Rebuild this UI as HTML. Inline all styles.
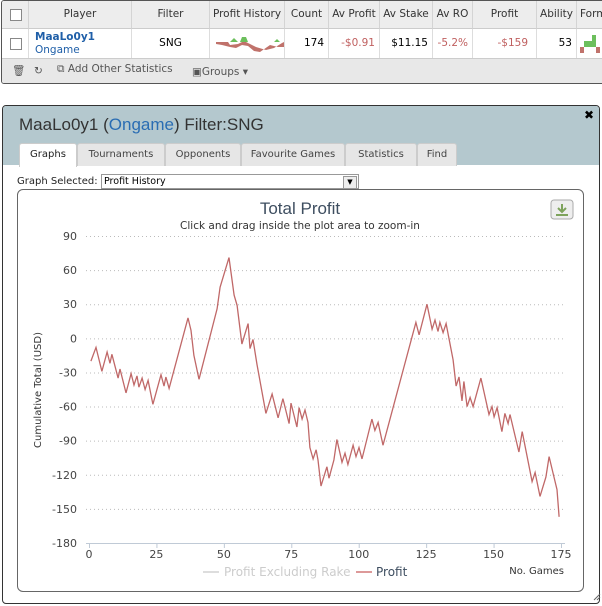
<!DOCTYPE html>
<html><head><meta charset="utf-8"><style>
body{margin:0;width:602px;height:606px;background:#fff;font-family:"DejaVu Sans","Liberation Sans",sans-serif;position:relative;overflow:hidden}
.abs{position:absolute}
#top{left:1px;top:0;width:604px;height:82px;border:1px solid #555;border-radius:3px;background:#fff;overflow:hidden}
.hd{top:0;height:27px;background:#ededed;border-bottom:1px solid #ccc;font-size:10.5px;color:#333;line-height:27px;text-align:center;border-right:1px solid #d4d4d4}
.cell{top:28px;height:29px;font-size:10.5px;line-height:29px;text-align:right;border-right:1px solid #ddd;padding-right:4px;box-sizing:border-box}
#panel{left:2px;top:105px;width:596px;height:497px;border:1px solid #333;border-radius:4px;background:#fff;overflow:hidden}
#phead{left:0;top:0;width:596px;height:59px;background:#b4c8ce}
.tab{top:37px;height:22px;background:#e6e6e6;border:1px solid #ccc;border-bottom:none;font-size:10px;color:#444;line-height:22px;text-align:center;border-radius:3px 3px 0 0}
</style></head><body>
<div id="top" class="abs">
 <div class="abs hd" style="left:0;width:26px"><div class="abs" style="left:8px;top:8px;width:10px;height:10px;border:1px solid #888;background:#fff"></div></div>
 <div class="abs hd" style="left:27px;width:102px">Player</div>
 <div class="abs hd" style="left:130px;width:77px">Filter</div>
 <div class="abs hd" style="left:208px;width:74px;overflow:hidden;white-space:nowrap">Profit History</div>
 <div class="abs hd" style="left:283px;width:43px">Count</div>
 <div class="abs hd" style="left:327px;width:50px">Av Profit</div>
 <div class="abs hd" style="left:378px;width:52px;overflow:hidden;white-space:nowrap">Av Stake</div>
 <div class="abs hd" style="left:431px;width:39px;overflow:hidden">Av RO</div>
 <div class="abs hd" style="left:471px;width:63px">Profit</div>
 <div class="abs hd" style="left:535px;width:39px">Ability</div>
 <div class="abs hd" style="left:575px;width:40px;text-align:left;padding-left:3px">Form</div>
 <div class="abs cell" style="left:0;width:27px"><div class="abs" style="left:8px;top:9px;width:10px;height:10px;border:1px solid #888"></div></div>
 <div class="abs cell" style="left:27px;width:103px;text-align:left;padding-left:6px;line-height:13px;padding-top:2px;color:#1f5fa8"><b>MaaLo0y1</b><br><span>Ongame</span></div>
 <div class="abs cell" style="left:130px;width:78px;text-align:center;padding:0">SNG</div>
 <div class="abs cell" style="left:208px;width:75px;padding:0"><svg width="75" height="29"><path d="M6,13 L18,13 L20,16 L28,15 L32,13 L36,13 L46,18 L56,21 L64,19 L72,14 L74,13 L74,18 L68,18 L60,16 L50,23 L44,22 L38,17 L32,16 L26,19 L20,18 L12,16 L6,15Z" fill="#c0726b"/><path d="M20,13 L24,9 L28,13Z M30,13 L32,8 L36,8 L38,13Z M64,13 L67,10 L70,13Z" fill="#6cbf5c"/></svg></div>
 <div class="abs cell" style="left:283px;width:44px">174</div>
 <div class="abs cell" style="left:327px;width:51px;color:#c06060">-$0.91</div>
 <div class="abs cell" style="left:378px;width:53px">$11.15</div>
 <div class="abs cell" style="left:431px;width:40px;color:#c06060;overflow:hidden">-5.2%</div>
 <div class="abs cell" style="left:471px;width:64px;color:#c06060;padding-right:8px">-$159</div>
 <div class="abs cell" style="left:535px;width:40px">53</div>
 <div class="abs" style="left:578px;top:34px"><svg width="30" height="20"><rect x="0" y="12" width="4" height="6" fill="#c0726b"/><rect x="4" y="6" width="4" height="6" fill="#6cbf5c"/><rect x="8" y="6" width="4" height="6" fill="#6cbf5c"/><rect x="12" y="0" width="4" height="12" fill="#6cbf5c"/><rect x="16" y="12" width="4" height="6" fill="#c0726b"/></svg></div>
 <div class="abs" style="left:0;top:57px;width:604px;height:25px;background:#e8e8e8;border-top:1px solid #ccc;font-size:10.5px;color:#555;line-height:25px">
  <span class="abs" style="left:10px">🗑</span>
  <span class="abs" style="left:32px">↻</span>
  <span class="abs" style="left:55px;top:-2px">⧉ Add Other Statistics</span>
  <span class="abs" style="left:190px;top:1px">▣Groups ▾</span>
 </div>
</div>

<div id="panel" class="abs">
 <div id="phead" class="abs">
  <div class="abs" style="left:16px;top:9px;font-family:'Liberation Sans',sans-serif;font-size:17px;color:#333">MaaLo0y1 (<span style="color:#2a6db3">Ongame</span>) Filter:SNG</div>
  <div class="abs" style="left:581px;top:2px;font-size:12px;font-weight:bold">✖</div>
  <div class="abs tab" style="left:16px;width:56px;background:#fff;height:23px;color:#222">Graphs</div>
  <div class="abs tab" style="left:74px;width:86px">Tournaments</div>
  <div class="abs tab" style="left:162px;width:74px">Opponents</div>
  <div class="abs tab" style="left:238px;width:102px">Favourite Games</div>
  <div class="abs tab" style="left:342px;width:70px">Statistics</div>
  <div class="abs tab" style="left:414px;width:38px">Find</div>
 </div>
 <div class="abs" style="left:14px;top:70px;font-size:10px;color:#222">Graph Selected:</div>
 <div class="abs" style="left:98px;top:68px;font-size:9.5px;line-height:14px;padding-left:2px;border:1px solid #999;box-sizing:border-box;width:258px;height:15px">Profit History<span class="abs" style="right:1px;top:1px;width:12px;height:11px;border:1px solid #999;background:#eee;font-size:7px;text-align:center;line-height:11px">▼</span></div>
 <div class="abs" style="left:14px;top:83px;width:565px;height:401px;border:1px solid #666;border-radius:6px"></div>
</div>

<svg class="abs" style="left:0;top:0" width="602" height="606" id="chart">
 <text x="300" y="214" text-anchor="middle" font-family="Liberation Sans,sans-serif" font-size="17" fill="#3e4e60">Total Profit</text>
 <text x="300" y="229" text-anchor="middle" font-family="DejaVu Sans,sans-serif" font-size="10.5" fill="#333">Click and drag inside the plot area to zoom-in</text>
 <g><rect x="551" y="200" width="22" height="19" rx="3" fill="#eee" stroke="#aaa"/><path d="M562,204 v8 M558,208 l4,4 l4,-4 M556,215 h12" stroke="#7ea35c" stroke-width="2" fill="none"/></g>
 <text transform="translate(41,390) rotate(-90)" text-anchor="middle" font-family="DejaVu Sans,sans-serif" font-size="10" fill="#333">Cumulative Total (USD)</text>
 <g id="grid"></g><g id="yt"></g><g id="xt"></g><g id="series"></g>
 <g font-family="DejaVu Sans,sans-serif" font-size="12">
  <g><line x1="203" y1="572" x2="219" y2="572" stroke="#ddd" stroke-width="2"/><text x="224" y="576" fill="#ccc">Profit Excluding Rake</text></g>
  <g><line x1="356" y1="572" x2="372" y2="572" stroke="#d99" stroke-width="2"/><text x="376" y="576" fill="#3e4e60">Profit</text></g>
 </g>
 <text x="564" y="574" text-anchor="end" font-family="DejaVu Sans,sans-serif" font-size="10" fill="#333">No. Games</text>
 <path d="M594,600 l6,-6 M597,600 l3,-3" stroke="#666"/>
</svg>
<script>
const games=[0.7,2.6,4.8,6.7,7.8,8.5,10.8,11.5,13.7,15.6,16.7,17.8,18.5,19.7,20.8,21.9,23.7,26.7,27.8,28.5,29.7,36.7,37.8,38.9,40.8,47.5,48.6,51.9,53.8,54.9,56.7,59,59.7,60.8,62.3,65.6,67.9,70.1,71.9,74.2,74.9,77.1,77.9,79,80.1,81.2,81.9,83.1,84.2,84.9,86,88.2,89,90.8,91.9,93.8,94.9,96,97.9,99,100.1,101.2,104.9,106,107.2,109,121.2,122.4,125.3,127.2,128.3,129.4,130.1,131.3,132.4,135,136.1,137.2,138.3,139,140.2,141.3,142.4,145.3,148.3,149.4,150.2,151.3,153.1,154.2,155.4,156.1,159.4,160.6,164.3,165.4,167.2,169.4,170.6,172.4,173.5,174.3];
const profit=[-20,-8,-29,-12,-22,-14,-35,-27,-48,-31,-41,-33,-43,-35,-45,-37,-58,-32,-42,-34,-44,18,7,-15,-36,26,45,71,38,29,-5,13,-9,-1,-23,-66,-49,-70,-53,-75,-57,-78,-61,-71,-63,-74,-96,-106,-98,-107,-130,-113,-123,-107,-89,-109,-101,-111,-94,-104,-96,-106,-71,-81,-74,-94,14,3,30,8,16,6,14,5,13,-19,-42,-34,-55,-38,-60,-52,-60,-35,-67,-60,-69,-61,-82,-66,-75,-67,-100,-82,-126,-118,-139,-122,-104,-122,-133,-157];
const yTicks=[90,60,30,0,-30,-60,-90,-120,-150,-180];
const xTicks=[0,25,50,75,100,125,150,175];
const X=g=>89+g*(561-89)/175, Y=v=>543-(v+180)*(543-236)/270;
const NS='http://www.w3.org/2000/svg';
function mk(t,a,p){const e=document.createElementNS(NS,t);for(const k in a)e.setAttribute(k,a[k]);p.appendChild(e);return e;}
const grid=document.getElementById('grid'),yt=document.getElementById('yt'),xt=document.getElementById('xt'),se=document.getElementById('series');
yTicks.forEach(v=>{
 if(v>-180){const l=mk('line',{x1:86,x2:565,y1:Y(v)+.5,y2:Y(v)+.5,stroke:'#bbb','stroke-dasharray':'1,3'},grid);
 
 }
 const t=mk('text',{x:77,y:Y(v)+4,'text-anchor':'end','font-family':'DejaVu Sans,sans-serif','font-size':11,fill:'#444'},yt);t.textContent=v;
 
 
});
const ax=mk('line',{x1:86,x2:565,y1:Y(-180)+.5,y2:Y(-180)+.5,stroke:'#c0cad6'},xt);


xTicks.forEach(g=>{
 mk('line',{x1:X(g)+.5,x2:X(g)+.5,y1:Y(-180),y2:Y(-180)+5,stroke:'#c0cad6'},xt);
 const t=mk('text',{x:X(g),y:Y(-180)+15,'text-anchor':'middle','font-family':'DejaVu Sans,sans-serif','font-size':11,fill:'#444'},xt);t.textContent=g;
 
 
});
const d=games.map((g,i)=>(i?'L':'M')+X(g).toFixed(1)+','+Y(profit[i]).toFixed(1)).join(' ');
const p=mk('path',{d:d,fill:'none',stroke:'#c06868','stroke-width':1.3},se);


</script>
</body></html>
